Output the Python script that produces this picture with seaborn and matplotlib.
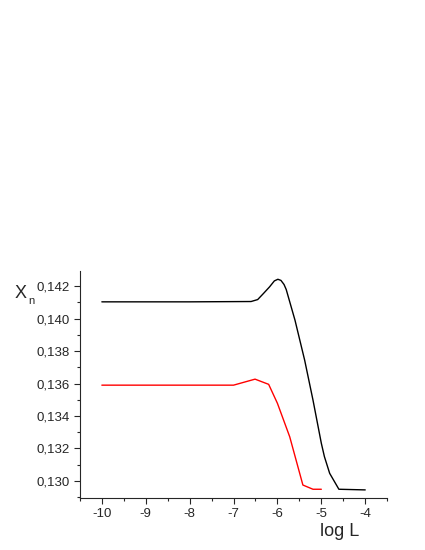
import pandas as pd
import matplotlib
matplotlib.use('Agg')
import matplotlib.pyplot as plt
import seaborn as sns
from matplotlib.ticker import MultipleLocator, FuncFormatter

# curve values
black_logL = [-10, -8, -6.6, -6.45, -6.32, -6.18, -6.07, -5.99, -5.92, -5.85, -5.80, -5.60, -5.38, -5.19, -5.0,
              -4.93, -4.81, -4.6, -4.0]
black_xn = [0.14103, 0.14103, 0.14105, 0.14117, 0.14154, 0.14195, 0.14232, 0.14242, 0.14235, 0.14210, 0.14179,
            0.13990, 0.13744, 0.13498, 0.13232, 0.13150, 0.13047, 0.12949, 0.12945]
red_logL = [-10, -7.0, -6.51, -6.20, -6.0, -5.72, -5.42, -5.19, -5.0]
red_xn = [0.13590, 0.13590, 0.13627, 0.13595, 0.13478, 0.13272, 0.12975, 0.12949, 0.12949]

df_black = pd.DataFrame({'logL': black_logL, 'Xn': black_xn})
df_red = pd.DataFrame({'logL': red_logL, 'Xn': red_xn})

sns.set_style('ticks')
plt.rcParams['font.family'] = ['Liberation Sans', 'DejaVu Sans']

fig = plt.figure(figsize=(4.25, 5.5), dpi=100)
ax = fig.add_axes([0.188, 0.0945, 0.723, 0.4125])

sns.lineplot(data=df_black, x='logL', y='Xn', color='black', linewidth=1.0, ax=ax, sort=False)
sns.lineplot(data=df_red, x='logL', y='Xn', color='red', linewidth=1.0, ax=ax, sort=False)

ax.set_xlim(-10.5, -3.5)
ax.set_ylim(0.12895, 0.14292)
ax.xaxis.set_major_locator(MultipleLocator(1))
ax.xaxis.set_minor_locator(MultipleLocator(0.5))
ax.yaxis.set_major_locator(MultipleLocator(0.002))
ax.yaxis.set_minor_locator(MultipleLocator(0.001))
ax.yaxis.set_major_formatter(FuncFormatter(lambda v, p: f'{v:.3f}'.replace('.', ',')))
ax.xaxis.set_major_formatter(FuncFormatter(lambda v, p: f'{v:.0f}'))
ax.tick_params(which='major', length=4, width=0.8, labelsize=9.5, direction='out', pad=3)
ax.tick_params(which='minor', length=2.5, width=0.8, direction='out')
sns.despine(ax=ax)

ax.set_xlabel('')
ax.set_ylabel('')
fig.text(0.80, 0.034, 'log L', fontsize=13, ha='center', va='center')
fig.text(0.034, 0.466, 'X', fontsize=13, ha='left', va='center')
fig.text(0.066, 0.452, 'n', fontsize=8, ha='left', va='center')

fig.savefig('out.png', dpi=100)
